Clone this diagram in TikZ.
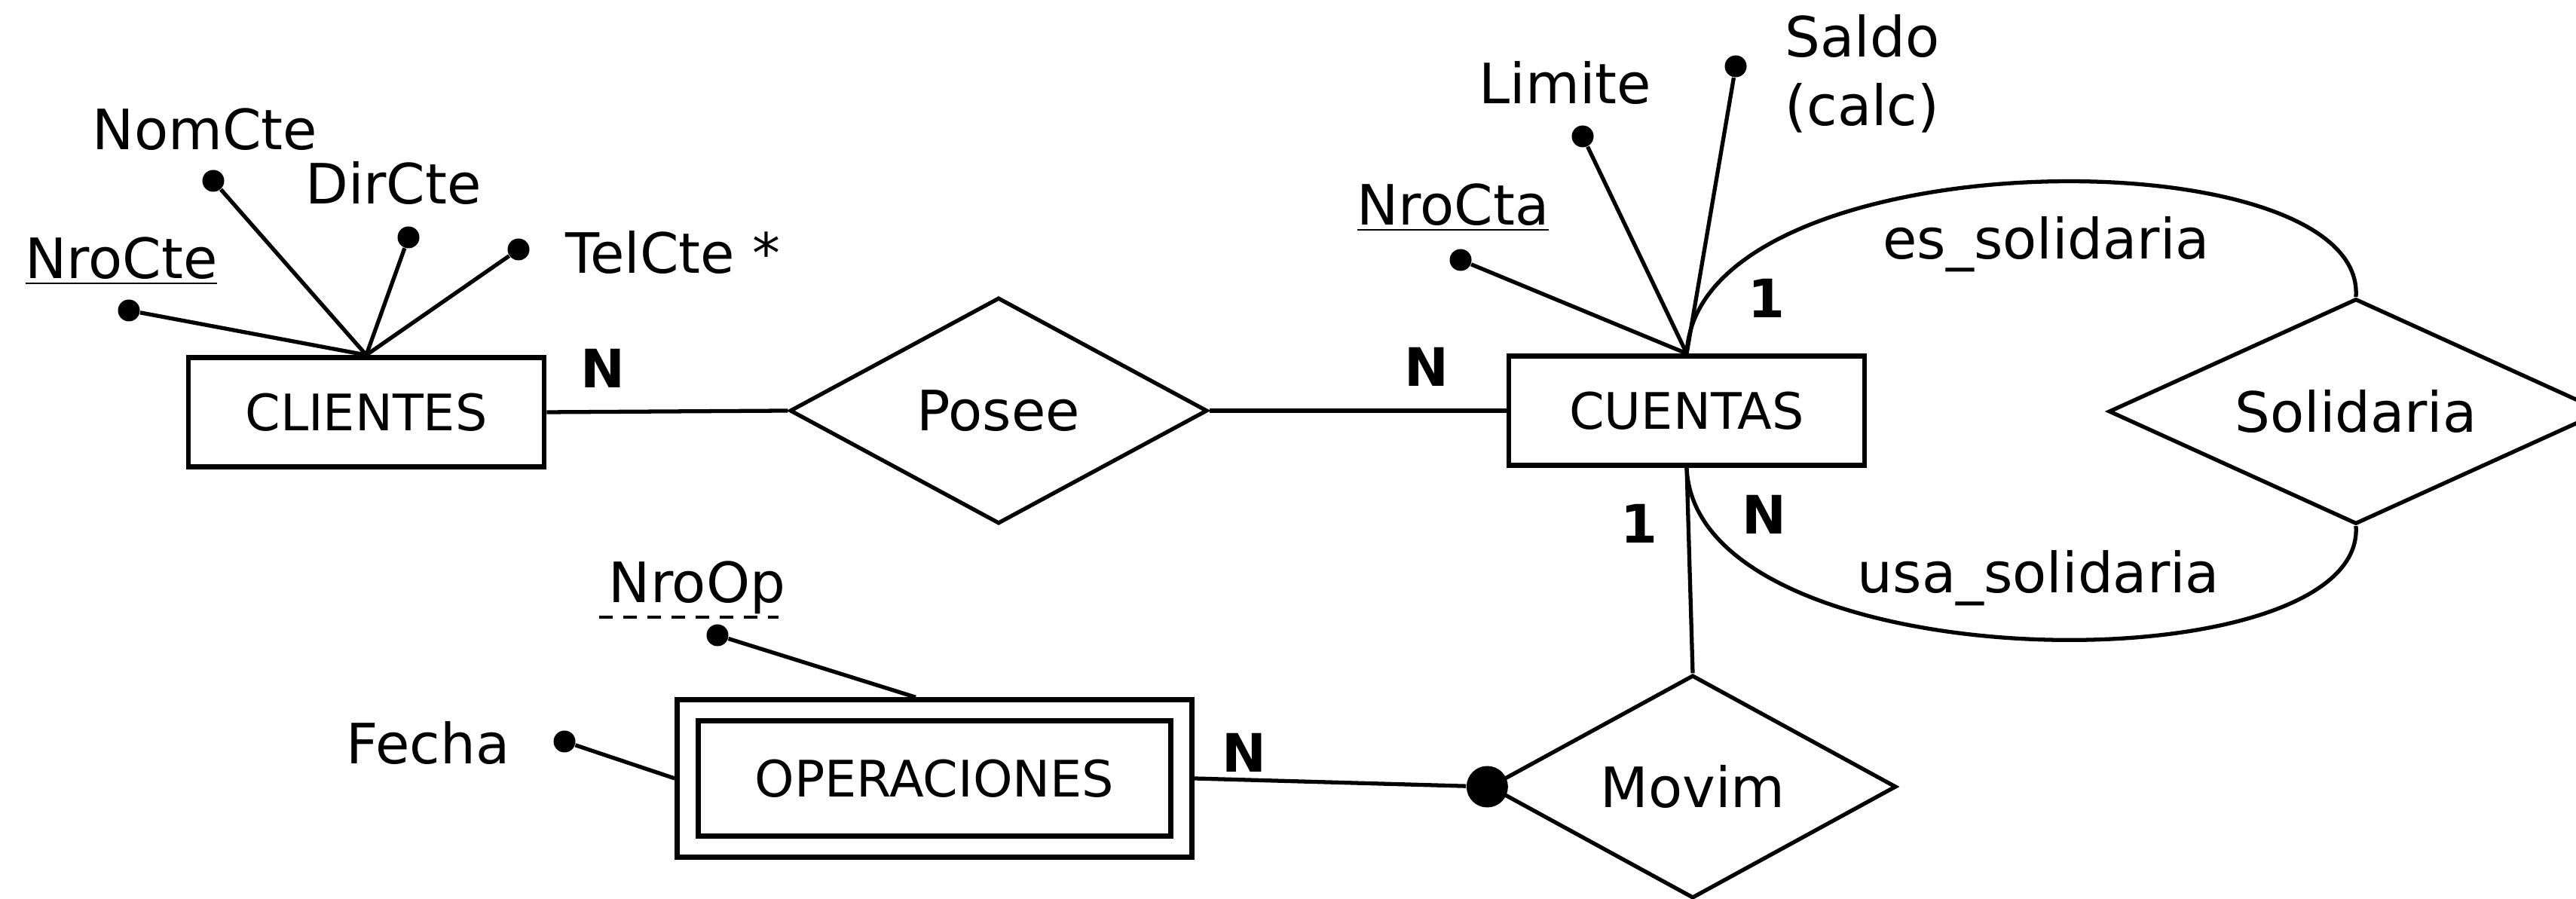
\documentclass[tikz,border=0pt]{standalone}
\usepackage{fontspec}
\setmainfont{DejaVu Sans}
\usepackage{tikz}
\usetikzlibrary{shapes.geometric,positioning,calc}

\begin{document}
\begin{tikzpicture}[
    entity/.style={draw,line width=1.9pt,minimum width=4.72cm,minimum height=1.45cm,
                   inner sep=0pt,font=\fontsize{19}{23}\selectfont},
    relation/.style={draw,diamond,line width=1.5pt,inner sep=0pt,font=\fontsize{21}{25}\selectfont},
    attrdot/.style={circle,fill=black,inner sep=0pt,minimum size=0.29cm},
    attrtext/.style={inner sep=0pt,font=\fontsize{21}{26}\selectfont},
    card/.style={inner sep=0pt,font=\fontsize{20}{24}\selectfont\bfseries},
    link/.style={line width=1.5pt}
]
    \useasboundingbox (0,0) rectangle (34.18,11.93);

    % entities and relationships
    \node[entity] (clientes) at (4.86,6.46) {CLIENTES};
    \node[relation,aspect=1.85,minimum width=5.54cm,minimum height=3cm] (posee) at (13.25,6.48) {Posee};
    \node[entity] (cuentas) at (22.38,6.48) {CUENTAS};
    \node[relation,aspect=2.2,minimum width=6.56cm,minimum height=2.99cm] (solidaria) at (31.26,6.47) {Solidaria};
    \node[relation,aspect=1.82,minimum width=5.4cm,minimum height=2.96cm] (movim) at (22.46,1.49) {Movim};
    \node[entity,double,double distance=0.21cm,minimum width=6.55cm,minimum height=1.81cm,
          outer sep=0.172cm] (operaciones) at (12.40,1.60) {OPERACIONES};
    \node[circle,fill=black,inner sep=0pt,minimum size=0.55cm] (part) at (movim.west) {};

    % attributes
    \node[attrdot] (dNroCte) at (1.71,7.81) {};
    \node[attrdot] (dNomCte) at (2.83,9.53) {};
    \node[attrdot] (dDirCte) at (5.42,8.78) {};
    \node[attrdot] (dTelCte) at (6.88,8.62) {};
    \node[attrdot] (dNroCta) at (19.38,8.48) {};
    \node[attrdot] (dLimite) at (21.00,10.12) {};
    \node[attrdot] (dSaldo) at (23.03,11.05) {};
    \node[attrdot] (dNroOp) at (9.52,3.50) {};
    \node[attrdot] (dFecha) at (7.49,2.09) {};

    \node[attrtext,anchor=base] (tNroCte) at (1.61,8.23) {\underline{NroCte}};
    \node[attrtext,anchor=base] (tNomCte) at (2.72,9.94) {NomCte};
    \node[attrtext,anchor=base] (tDirCte) at (5.22,9.22) {DirCte};
    \node[attrtext,anchor=base west] (tTelCte) at (7.50,8.30) {TelCte *};
    \node[attrtext,anchor=base] (tNroCta) at (19.28,8.94) {\underline{NroCta}};
    \node[attrtext,anchor=base] (tLimite) at (20.77,10.55) {Limite};
    \node[attrtext,anchor=west,align=left] (tSaldo) at (23.68,10.95) {Saldo\\(calc)};
    \node[attrtext,anchor=base] (tNroOp) at (9.25,3.93) {NroOp};
    \node[attrtext,anchor=base] (tFecha) at (5.68,1.79) {Fecha};
    \draw[line width=1.3pt,dash pattern=on 0.18cm off 0.14cm]
        ($(tNroOp.base west)+(-0.12,-0.19)$) -- ($(tNroOp.base east)+(-0.1,-0.19)$);

    \foreach \a in {dNroCte,dNomCte,dDirCte,dTelCte}
        \draw[link] (\a) -- (clientes.north);
    \foreach \a in {dNroCta,dLimite,dSaldo}
        \draw[link] (\a) -- (cuentas.north);
    \draw[link] (dNroOp) -- ($(operaciones.north)+(-0.25,0)$);
    \draw[link] (dFecha) -- (operaciones.west);

    % relationship lines
    \draw[link] (clientes.east) -- (posee.west);
    \draw[link] (posee.east) -- (cuentas.west);
    \draw[link] (cuentas.south) -- (movim.north);
    \draw[link] (operaciones.east) -- (part);
    \draw[link] (cuentas.north) .. controls +(0.14,2.88) and +(0.14,2.18) .. (solidaria.north);
    \draw[link] (cuentas.south) .. controls +(0.12,-2.88) and +(0.14,-2.15) .. (solidaria.south);

    % roles and cardinalities
    \node[attrtext,anchor=base] (lEs) at (27.15,8.49) {es\_solidaria};
    \node[attrtext,anchor=base] (lUsa) at (27.05,4.06) {usa\_solidaria};
    \node[card] (cCliPosee) at (8.00,7.04) {N};
    \node[card] (cCtaPosee) at (18.93,7.06) {N};
    \node[card] (cEs) at (23.44,7.97) {1};
    \node[card] (cMovCta) at (21.75,4.98) {1};
    \node[card] (cUsa) at (23.41,5.10) {N};
    \node[card] (cOpMov) at (16.51,1.94) {N};
\end{tikzpicture}
\end{document}
